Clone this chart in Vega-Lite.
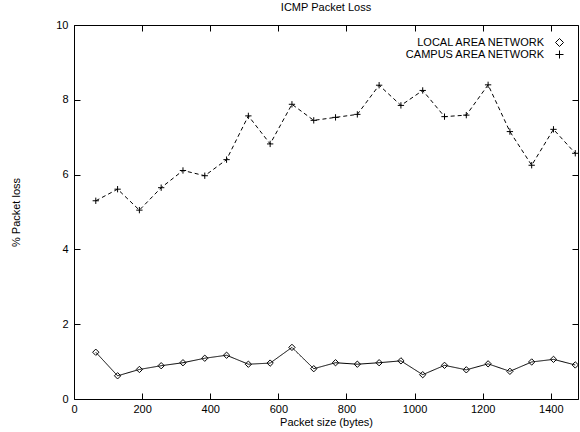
{
  "$schema": "https://vega.github.io/schema/vega-lite/v6.json",
  "width": 504,
  "height": 374,
  "autosize": "none",
  "padding": {"left": 74, "top": 25, "right": 2, "bottom": 33},
  "title": {"text": "ICMP Packet Loss", "fontSize": 11, "fontWeight": "normal", "font": "Liberation Sans", "offset": 6, "color": "black"},
  "config": {
    "font": "Liberation Sans",
    "view": {"stroke": "black", "strokeWidth": 1},
    "axis": {"domain": false, "grid": false, "zindex": 1, "ticks": true, "tickColor": "black", "tickSize": 6, "offset": -6, "labelColor": "black", "labelFontSize": 11, "titleFontSize": 11, "titleFontWeight": "normal", "titleColor": "black"}
  },
  "data": {"values": [
    {"size": 64, "network": "LOCAL AREA NETWORK", "loss": 1.25},
    {"size": 128, "network": "LOCAL AREA NETWORK", "loss": 0.62},
    {"size": 192, "network": "LOCAL AREA NETWORK", "loss": 0.79},
    {"size": 256, "network": "LOCAL AREA NETWORK", "loss": 0.89},
    {"size": 320, "network": "LOCAL AREA NETWORK", "loss": 0.97},
    {"size": 384, "network": "LOCAL AREA NETWORK", "loss": 1.09},
    {"size": 448, "network": "LOCAL AREA NETWORK", "loss": 1.17},
    {"size": 512, "network": "LOCAL AREA NETWORK", "loss": 0.93},
    {"size": 576, "network": "LOCAL AREA NETWORK", "loss": 0.96},
    {"size": 640, "network": "LOCAL AREA NETWORK", "loss": 1.38},
    {"size": 704, "network": "LOCAL AREA NETWORK", "loss": 0.81},
    {"size": 768, "network": "LOCAL AREA NETWORK", "loss": 0.97},
    {"size": 832, "network": "LOCAL AREA NETWORK", "loss": 0.93},
    {"size": 896, "network": "LOCAL AREA NETWORK", "loss": 0.97},
    {"size": 960, "network": "LOCAL AREA NETWORK", "loss": 1.02},
    {"size": 1024, "network": "LOCAL AREA NETWORK", "loss": 0.65},
    {"size": 1088, "network": "LOCAL AREA NETWORK", "loss": 0.9},
    {"size": 1152, "network": "LOCAL AREA NETWORK", "loss": 0.78},
    {"size": 1216, "network": "LOCAL AREA NETWORK", "loss": 0.94},
    {"size": 1280, "network": "LOCAL AREA NETWORK", "loss": 0.74},
    {"size": 1344, "network": "LOCAL AREA NETWORK", "loss": 0.99},
    {"size": 1408, "network": "LOCAL AREA NETWORK", "loss": 1.06},
    {"size": 1472, "network": "LOCAL AREA NETWORK", "loss": 0.91},
    {"size": 64, "network": "CAMPUS AREA NETWORK", "loss": 5.3},
    {"size": 128, "network": "CAMPUS AREA NETWORK", "loss": 5.61},
    {"size": 192, "network": "CAMPUS AREA NETWORK", "loss": 5.05},
    {"size": 256, "network": "CAMPUS AREA NETWORK", "loss": 5.65},
    {"size": 320, "network": "CAMPUS AREA NETWORK", "loss": 6.11},
    {"size": 384, "network": "CAMPUS AREA NETWORK", "loss": 5.97},
    {"size": 448, "network": "CAMPUS AREA NETWORK", "loss": 6.4},
    {"size": 512, "network": "CAMPUS AREA NETWORK", "loss": 7.57},
    {"size": 576, "network": "CAMPUS AREA NETWORK", "loss": 6.82},
    {"size": 640, "network": "CAMPUS AREA NETWORK", "loss": 7.88},
    {"size": 704, "network": "CAMPUS AREA NETWORK", "loss": 7.45},
    {"size": 768, "network": "CAMPUS AREA NETWORK", "loss": 7.53},
    {"size": 832, "network": "CAMPUS AREA NETWORK", "loss": 7.61},
    {"size": 896, "network": "CAMPUS AREA NETWORK", "loss": 8.39},
    {"size": 960, "network": "CAMPUS AREA NETWORK", "loss": 7.85},
    {"size": 1024, "network": "CAMPUS AREA NETWORK", "loss": 8.25},
    {"size": 1088, "network": "CAMPUS AREA NETWORK", "loss": 7.55},
    {"size": 1152, "network": "CAMPUS AREA NETWORK", "loss": 7.59},
    {"size": 1216, "network": "CAMPUS AREA NETWORK", "loss": 8.4},
    {"size": 1280, "network": "CAMPUS AREA NETWORK", "loss": 7.15},
    {"size": 1344, "network": "CAMPUS AREA NETWORK", "loss": 6.25},
    {"size": 1408, "network": "CAMPUS AREA NETWORK", "loss": 7.21},
    {"size": 1472, "network": "CAMPUS AREA NETWORK", "loss": 6.57}
  ]},
  "resolve": {"axis": {"x": "independent", "y": "independent"}},
  "layer": [
    {
      "mark": {"type": "line", "color": "black", "strokeWidth": 1},
      "encoding": {
        "x": {"field": "size", "type": "quantitative", "scale": {"domain": [0, 1480], "nice": false, "zero": false},
              "axis": {"tickCount": 8, "format": "d", "title": "Packet size (bytes)", "labelPadding": 4, "titlePadding": 2, "labelFlush": false}},
        "y": {"field": "loss", "type": "quantitative", "scale": {"domain": [0, 10], "nice": false},
              "axis": {"tickCount": 5, "title": "% Packet loss", "labelPadding": 6, "titlePadding": 34}},
        "strokeDash": {"field": "network", "type": "nominal", "sort": ["LOCAL AREA NETWORK", "CAMPUS AREA NETWORK"], "scale": {"range": [[1, 0], [4, 3]]}, "legend": null}
      }
    },
    {
      "mark": {"type": "point", "filled": false, "stroke": "black", "strokeWidth": 1, "size": 40, "opacity": 1},
      "encoding": {
        "x": {"field": "size", "type": "quantitative", "axis": {"orient": "top", "tickCount": 8, "labels": false, "title": null}},
        "y": {"field": "loss", "type": "quantitative", "axis": {"orient": "right", "tickCount": 5, "labels": false, "title": null}},
        "shape": {"field": "network", "type": "nominal", "sort": ["LOCAL AREA NETWORK", "CAMPUS AREA NETWORK"],
          "scale": {"range": ["diamond", "M-1,0H1M0,-1V1"]},
          "legend": {"title": null, "orient": "top-right", "offset": 12, "labelFontSize": 11, "labelColor": "black", "labelAlign": "right", "labelOffset": -21,
            "symbolSize": 64, "symbolStrokeColor": "black", "symbolStrokeWidth": 1, "symbolFillColor": "transparent", "rowPadding": -2, "padding": 0,
            "encode": {"symbols": {
              "shape": {"condition": {"test": "datum.value == 'LOCAL AREA NETWORK'", "value": "M-3.4,0H3.4M0,-0.8L0.8,0L0,0.8L-0.8,0Z"}, "value": "M-3.4,0H3.4M0,-0.8V0.8"},
              "strokeDash": {"condition": {"test": "datum.value == 'LOCAL AREA NETWORK'", "value": [1, 0]}, "value": [4, 3]}
            }}
          }
        }
      }
    }
  ]
}
